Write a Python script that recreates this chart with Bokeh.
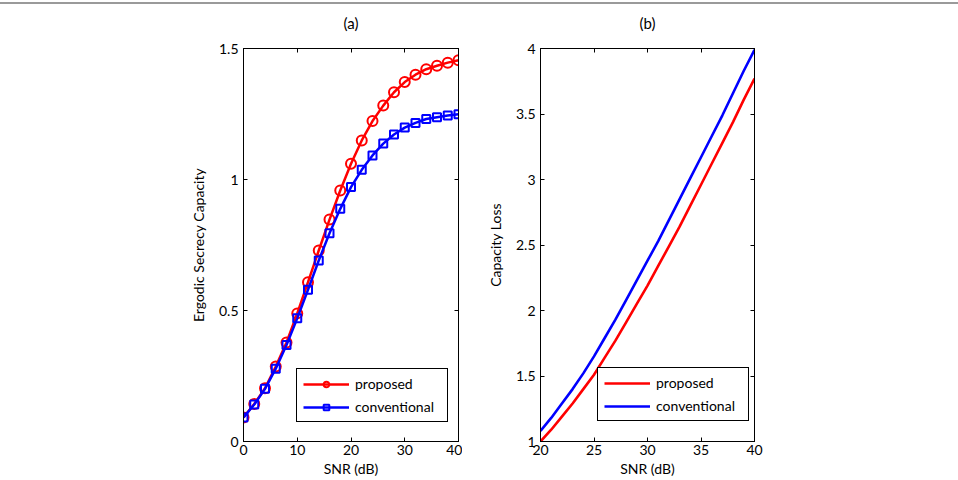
from bokeh.plotting import figure
from bokeh.models import (Range1d, FixedTicker, LinearAxis, Legend, LegendItem,
                          CustomJSTickFormatter)
from bokeh.layouts import row
from bokeh.embed import file_html
from bokeh.resources import INLINE

# ---------------- data ----------------
snr_a = [0, 2, 4, 6, 8, 10, 12, 14, 16, 18, 20, 22, 24, 26, 28, 30, 32, 34, 36, 38, 40]
proposed_a = [0.092, 0.143, 0.203, 0.286, 0.378, 0.489, 0.608, 0.729, 0.847, 0.958, 1.060,
              1.149, 1.223, 1.282, 1.333, 1.372, 1.400, 1.421, 1.434, 1.446, 1.455]
conventional_a = [0.092, 0.141, 0.201, 0.278, 0.368, 0.470, 0.579, 0.691, 0.795, 0.888, 0.971,
                  1.037, 1.092, 1.137, 1.172, 1.198, 1.216, 1.231, 1.238, 1.244, 1.249]

snr_b = [20, 21, 22, 23, 24, 25, 26, 27, 28, 29, 30, 31, 32, 33, 34, 35, 36, 37, 38, 39, 40]
proposed_b = [1.00, 1.09, 1.19, 1.29, 1.40, 1.51, 1.64, 1.77, 1.91, 2.05, 2.19,
              2.34, 2.49, 2.64, 2.80, 2.96, 3.12, 3.28, 3.44, 3.61, 3.77]
conventional_b = [1.08, 1.18, 1.29, 1.40, 1.52, 1.65, 1.79, 1.93, 2.08, 2.23, 2.38,
                  2.53, 2.69, 2.85, 3.01, 3.17, 3.33, 3.49, 3.66, 3.83, 3.99]

xticks_a = [0, 10, 20, 30, 40]
yticks_a = [0, 0.5, 1, 1.5]
xticks_b = [20, 25, 30, 35, 40]
yticks_b = [1, 1.5, 2, 2.5, 3, 3.5, 4]

FONT = "Lato"
FS = "14px"
RED = "#ff0000"
BLUE = "#0000ff"

fmt = CustomJSTickFormatter(code="return tick.toString();")
blank_fmt = CustomJSTickFormatter(code="return '';")


def style_axis(ax, ticks, show_labels=True):
    ax.ticker = FixedTicker(ticks=ticks)
    ax.formatter = fmt if show_labels else blank_fmt
    ax.major_tick_in = 4
    ax.major_tick_out = 0
    ax.minor_tick_line_color = None
    ax.axis_line_color = "black"
    ax.major_tick_line_color = "black"
    ax.major_label_text_font = FONT
    ax.major_label_text_font_size = FS
    ax.major_label_text_color = "black"
    ax.major_label_standoff = 5 if show_labels else 0
    ax.axis_label_text_font = FONT
    ax.axis_label_text_font_size = FS
    ax.axis_label_text_font_style = "normal"
    ax.axis_label_text_color = "black"


def make_fig(width, left, right, xr, yr, xt, yt, title, ylabel):
    p = figure(width=width, height=476, x_range=Range1d(*xr), y_range=Range1d(*yr),
               output_backend="svg", toolbar_location=None,
               min_border_left=left, min_border_right=right,
               min_border_top=44, min_border_bottom=39)
    p.xgrid.visible = False
    p.ygrid.visible = False
    p.outline_line_color = "black"
    p.outline_line_alpha = 1
    style_axis(p.xaxis[0], xt)
    style_axis(p.yaxis[0], yt)
    p.xaxis[0].axis_label = "SNR (dB)"
    p.xaxis[0].major_label_standoff = 3
    p.xaxis[0].axis_label_standoff = 2
    p.yaxis[0].axis_label = ylabel
    p.yaxis[0].axis_label_standoff = 9
    top = LinearAxis()
    style_axis(top, xt, show_labels=False)
    top.axis_label = title
    top.axis_label_text_font_size = "15px"
    top.axis_label_standoff = 17
    p.add_layout(top, "above")
    rgt = LinearAxis()
    style_axis(rgt, yt, show_labels=False)
    p.add_layout(rgt, "right")
    return p


def make_legend(items, loc):
    lg = Legend(items=items, location=loc, margin=0, padding=6, spacing=6,
                glyph_width=46, glyph_height=14, label_height=14, label_width=86,
                label_standoff=6,
                label_text_font=FONT, label_text_font_size=FS, label_text_color="black",
                border_line_color="black", border_line_width=1, border_line_alpha=1,
                background_fill_color="white", background_fill_alpha=1)
    return lg


# ---------------- panel (a) ----------------
p1 = make_fig(462, 243, 4, (0, 40), (0, 1.5), xticks_a, yticks_a, "(a)",
              "Ergodic Secrecy Capacity")
r_l = p1.line(snr_a, proposed_a, line_color=RED, line_width=2.5)
r_s = p1.scatter(snr_a, proposed_a, marker="circle", size=10, line_color=RED,
                 line_width=2, fill_alpha=0)
b_l = p1.line(snr_a, conventional_a, line_color=BLUE, line_width=2.5)
b_s = p1.scatter(snr_a, conventional_a, marker="square", size=8, line_color=BLUE,
                 line_width=2, fill_alpha=0)
p1.add_layout(make_legend([LegendItem(label="proposed", renderers=[r_l, r_s]),
                           LegendItem(label="conventional", renderers=[b_l, b_s])],
                          (53, 19)))

# ---------------- panel (b) ----------------
p2 = make_fig(496, 78, 204, (20, 40), (1, 4), xticks_b, yticks_b, "(b)", "Capacity Loss")
r2 = p2.line(snr_b, proposed_b, line_color=RED, line_width=2.6)
b2 = p2.line(snr_b, conventional_b, line_color=BLUE, line_width=2.6)
p2.add_layout(make_legend([LegendItem(label="proposed", renderers=[r2]),
                           LegendItem(label="conventional", renderers=[b2])],
                          (57, 20)))

layout = row(p1, p2, styles={"margin-top": "2px", "border-top": "2px solid #9a9a9a"})
open("out.html", "w").write(file_html(layout, INLINE))
